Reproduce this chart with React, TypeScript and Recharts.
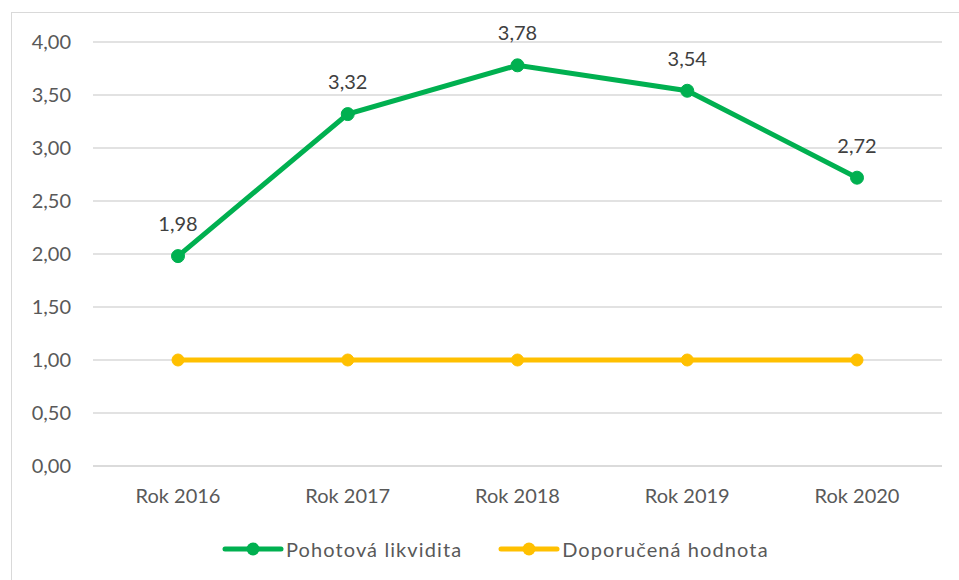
import { CartesianGrid, LabelList, Line, LineChart, XAxis, YAxis } from "recharts";

const years = ["Rok 2016", "Rok 2017", "Rok 2018", "Rok 2019", "Rok 2020"];
const quickRatio = [1.98, 3.32, 3.78, 3.54, 2.72];
const recommended = [1, 1, 1, 1, 1];
const yTicks = [0, 0.5, 1, 1.5, 2, 2.5, 3, 3.5, 4];

const GREEN = "#00B050";
const YELLOW = "#FFC000";
const FONT = "Lato, 'Open Sans', sans-serif";
const FS = 20;

const data = years.map((year, i) => ({
  year,
  quick: quickRatio[i],
  rec: recommended[i]
}));

const fmt = (v: number) => v.toFixed(2).replace(".", ",");

const legendItems = [
  { name: "Pohotová likvidita", color: GREEN },
  { name: "Doporučená hodnota", color: YELLOW }
];

const ChartLegend = () => (
  <div
    style={{
      position: "absolute",
      left: 222,
      top: 537,
      height: 24,
      display: "flex",
      gap: 36,
      fontFamily: FONT,
      fontSize: FS,
      color: "#595959",
      lineHeight: "24px",
      letterSpacing: 1.1
    }}
  >
    {legendItems.map((item) => (
      <div key={item.name} style={{ display: "flex", alignItems: "center" }}>
        <svg width={62} height={16} style={{ marginRight: 2 }}>
          <line x1={3} y1={8} x2={59} y2={8} stroke={item.color} strokeWidth={5} strokeLinecap="round" />
          <circle cx={31} cy={8} r={6.5} fill={item.color} />
        </svg>
        <span>{item.name}</span>
      </div>
    ))}
  </div>
);

export default function App() {
  return (
    <div style={{ position: "absolute", left: 0, top: 0, width: 959, height: 580, overflow: "hidden", background: "#fff" }}>
      <div
        style={{
          position: "absolute",
          left: 11,
          top: 12,
          width: 980,
          height: 600,
          border: "1.5px solid #D9D9D9"
        }}
      />
      <div style={{ position: "absolute", left: 0, top: 0 }}>
        <LineChart width={959} height={580} data={data} margin={{ top: 42, right: 17, left: 0, bottom: 84 }}>
          <CartesianGrid vertical={false} stroke="#D9D9D9" strokeWidth={1.3} />
          <XAxis
            dataKey="year"
            height={30}
            padding={{ left: 85, right: 85 }}
            axisLine={{ stroke: "#D9D9D9", strokeWidth: 1.3 }}
            tickLine={false}
            tickSize={0}
            tickMargin={23}
            tick={{ fill: "#595959", fontSize: FS, fontFamily: FONT }}
          />
          <YAxis
            domain={[0, 4]}
            ticks={yTicks}
            width={93}
            axisLine={false}
            tickLine={false}
            tickSize={0}
            tickMargin={22}
            tickFormatter={fmt}
            tick={{ fill: "#595959", fontSize: FS, fontFamily: FONT }}
          />
          <Line
            dataKey="rec"
            stroke={YELLOW}
            strokeWidth={5}
            dot={{ r: 6, fill: YELLOW, stroke: YELLOW, strokeWidth: 1 }}
            isAnimationActive={false}
          />
          <Line
            dataKey="quick"
            stroke={GREEN}
            strokeWidth={5}
            dot={{ r: 6.5, fill: GREEN, stroke: GREEN, strokeWidth: 1 }}
            isAnimationActive={false}
          >
            <LabelList
              dataKey="quick"
              position="top"
              offset={25}
              formatter={(v: number) => fmt(v)}
              style={{ fill: "#404040", fontSize: FS, fontFamily: FONT }}
            />
          </Line>
        </LineChart>
      </div>
      <ChartLegend />
    </div>
  );
}
